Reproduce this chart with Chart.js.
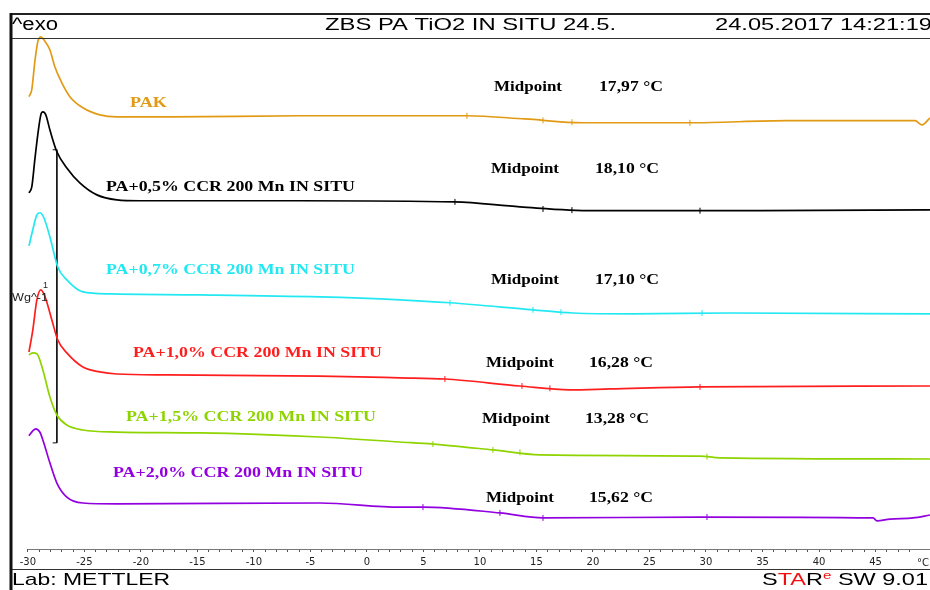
<!DOCTYPE html>
<html>
<head>
<meta charset="utf-8">
<script src="https://cdn.jsdelivr.net/npm/chart.js@4.4.1/dist/chart.umd.min.js"></script>
<style>
  html, body { margin: 0; padding: 0; background: #fff; }
  #wrap { position: relative; width: 930px; height: 590px; overflow: hidden; }
</style>
</head>
<body>
<div id="wrap"><canvas id="dsc" width="930" height="590"></canvas></div>
<script>
// DSC curves, temperature in °C, heat flow in W/g (curves shifted for display)
const tPAK = [-29.9, -29.65, -29.38, -29.12, -28.85, -28.58, -28.05, -27.61, -26.99, -26.28, -25.13, -23.63, -22.12, -17.17, -5.93, 4.96, 8.85, 13.98, 19.12, 28.58, 37.17, 45.66, 48.5, 49.12, 49.82];
const hPAK = [1.543, 1.567, 1.662, 1.730, 1.747, 1.737, 1.703, 1.645, 1.590, 1.543, 1.505, 1.481, 1.474, 1.474, 1.478, 1.478, 1.478, 1.467, 1.454, 1.454, 1.461, 1.461, 1.461, 1.447, 1.471];

const t05 = [-29.9, -29.65, -29.38, -29.12, -28.85, -28.67, -28.41, -28.05, -27.43, -26.55, -25.40, -23.89, -22.12, -20.09, -5.93, 7.79, 13.54, 20.0, 34.78, 49.82];
const h05 = [1.215, 1.235, 1.328, 1.413, 1.481, 1.491, 1.481, 1.430, 1.355, 1.300, 1.249, 1.208, 1.191, 1.188, 1.188, 1.184, 1.167, 1.154, 1.154, 1.157];

const t07 = [-29.9, -29.56, -29.20, -28.94, -28.58, -28.05, -27.35, -26.55, -25.13, -22.74, -14.78, -4.16, 2.92, 7.35, 14.69, 18.23, 23.54, 32.12, 49.82];
const h07 = [1.034, 1.089, 1.140, 1.147, 1.130, 1.065, 0.962, 0.918, 0.877, 0.870, 0.867, 0.860, 0.850, 0.840, 0.816, 0.805, 0.802, 0.805, 0.802];

const t10 = [-29.9, -29.56, -29.20, -28.85, -28.50, -27.88, -27.35, -26.55, -25.13, -23.63, -22.12, -17.70, -4.16, 2.92, 6.90, 13.54, 17.96, 21.50, 29.47, 49.82];
const h10 = [0.672, 0.747, 0.850, 0.884, 0.863, 0.782, 0.713, 0.669, 0.621, 0.604, 0.597, 0.594, 0.590, 0.584, 0.580, 0.556, 0.543, 0.546, 0.553, 0.556];

const t15 = [-29.9, -29.56, -29.20, -28.67, -28.05, -27.43, -26.55, -25.13, -22.12, -14.78, -4.16, 2.92, 5.84, 11.15, 15.31, 29.47, 31.24, 49.82];
const h15 = [0.662, 0.669, 0.666, 0.611, 0.519, 0.457, 0.423, 0.406, 0.399, 0.396, 0.382, 0.365, 0.358, 0.338, 0.321, 0.317, 0.311, 0.307];

const t20 = [-29.9, -29.56, -29.29, -28.94, -28.67, -28.05, -27.43, -26.55, -25.13, -22.12, -4.16, 2.92, 4.96, 11.77, 15.58, 29.47, 44.78, 45.13, 46.28, 48.32, 49.82];
const h20 = [0.386, 0.403, 0.410, 0.399, 0.372, 0.294, 0.225, 0.177, 0.157, 0.154, 0.157, 0.143, 0.143, 0.123, 0.106, 0.109, 0.106, 0.096, 0.102, 0.106, 0.116];

// glass transition evaluation marks: onset, midpoint, endset, limit (°C)
const mkT = [
  [8.85, 15.58, 18.14, 28.58],
  [7.79, 15.58, 18.14, 29.47],
  [7.35, 14.69, 17.17, 29.65],
  [6.90, 13.72, 16.19, 29.47],
  [5.84, 11.15, 13.54, 30.09],
  [4.96, 11.77, 15.58, 30.09]
];
const mkH = [
  [1.478, 1.462, 1.456, 1.454],
  [1.184, 1.160, 1.156, 1.154],
  [0.840, 0.816, 0.808, 0.805],
  [0.580, 0.556, 0.548, 0.553],
  [0.358, 0.338, 0.330, 0.315],
  [0.143, 0.123, 0.106, 0.109]
];

// 1 W/g scale bar
const tBar = [-27.8, -27.43, -27.43, -27.8];
const hBar = [1.362, 1.362, 0.362, 0.362];

const names = ["PAK", "PA+0,5% CCR 200 Mn IN SITU", "PA+0,7% CCR 200 Mn IN SITU",
  "PA+1,0% CCR 200 Mn IN SITU", "PA+1,5% CCR 200 Mn IN SITU", "PA+2,0% CCR 200 Mn IN SITU"];
const midpoints = ["17,97 °C", "18,10 °C", "17,10 °C", "16,28 °C", "13,28 °C", "15,62 °C"];
const colors = ["#E29A14", "#000000", "#22E8F2", "#FF1E1E", "#8ED400", "#9300E0"];
const temps = [tPAK, t05, t07, t10, t15, t20];
const flows = [hPAK, h05, h07, h10, h15, h20];

// where the texts sit: [x, y, width]
const namePos = [[130, 103, 37], [106, 187, 249], [106, 270, 249], [133, 353, 249], [126, 417, 250], [113, 473, 250]];
const midPos = [[494, 87], [491, 169], [491, 280], [486, 363], [482, 419], [486, 498]];
const valPos = [[599, 87], [595, 169], [595, 280], [589, 363], [585, 419], [589, 498]];

function fitText(ctx, text, x, y, w, font, color) {
  ctx.save();
  ctx.font = font;
  ctx.fillStyle = color;
  ctx.textBaseline = "middle";
  ctx.textAlign = "left";
  const m = ctx.measureText(text).width;
  ctx.translate(x, y);
  ctx.scale(w / m, 1);
  ctx.fillText(text, 0, 0);
  ctx.restore();
}

function hline(ctx, x1, x2, y, w, color) {
  ctx.beginPath();
  ctx.moveTo(x1, y);
  ctx.lineTo(x2, y);
  ctx.lineWidth = w;
  ctx.strokeStyle = color;
  ctx.stroke();
}

const frame = {
  id: "frame",
  afterDraw(chart) {
    const ctx = chart.ctx;
    const xs = chart.scales.x;
    ctx.save();
    // frame lines
    hline(ctx, 10, 930, 14, 2, "#222");
    hline(ctx, 10, 930, 38.5, 1, "#333");
    hline(ctx, xs.getPixelForValue(-30), 930, 549.5, 1, "#777");
    hline(ctx, 10, 930, 569.5, 1, "#333");
    ctx.beginPath();
    ctx.moveTo(11, 13);
    ctx.lineTo(11, 590);
    ctx.lineWidth = 3;
    ctx.strokeStyle = "#111";
    ctx.stroke();

    // header
    const sans = '"Liberation Sans", Arial, sans-serif';
    fitText(ctx, "^exo", 12, 25, 46, "18px " + sans, "#000");
    fitText(ctx, "ZBS PA TiO2 IN SITU 24.5.", 325, 25, 291, "17px " + sans, "#000");
    fitText(ctx, "24.05.2017 14:21:19", 715, 25, 217, "17px " + sans, "#000");

    // footer
    fitText(ctx, "Lab: METTLER", 12, 580, 158, "17px " + sans, "#000");
    const runs = [["S", "#000", 17, 0], ["TA", "#F01010", 17, 0], ["R", "#000", 17, 0],
      ["e", "#F01010", 11, -4], [" SW 9.01", "#000", 17, 0]];
    let total = 0;
    runs.forEach(r => { ctx.font = r[2] + "px " + sans; total += ctx.measureText(r[0]).width; });
    const k = 166 / total;
    let cx = 762;
    runs.forEach(r => {
      ctx.font = r[2] + "px " + sans;
      const w = ctx.measureText(r[0]).width * k;
      fitText(ctx, r[0], cx, 580 + r[3], w, r[2] + "px " + sans, r[1]);
      cx += w;
    });

    // axis unit
    ctx.font = '10px "DejaVu Sans"';
    ctx.fillStyle = "#222";
    ctx.textAlign = "center";
    ctx.textBaseline = "middle";
    ctx.fillText("°C", 923, 563);

    // scale bar label
    fitText(ctx, "1", 43, 286, 5, "9px " + sans, "#222");
    fitText(ctx, "Wg^-1", 12, 298, 36, "10px " + sans, "#222");

    // curve labels
    const serif = 'bold 15px "Liberation Serif", "Times New Roman", serif';
    names.forEach((n, i) => {
      const p = namePos[i];
      fitText(ctx, n, p[0], p[1], p[2], serif, colors[i]);
      fitText(ctx, "Midpoint", midPos[i][0], midPos[i][1], 68, serif, "#000");
      fitText(ctx, midpoints[i], valPos[i][0], valPos[i][1], 64, serif, "#000");
    });
    ctx.restore();
  }
};

const datasets = names.map((n, i) => ({
  label: n,
  data: temps[i].map((t, j) => ({ x: t, y: flows[i][j] })),
  borderColor: colors[i],
  borderWidth: 1.7,
  tension: 0.35,
  cubicInterpolationMode: "monotone",
  pointRadius: 0
}));
names.forEach((n, i) => {
  datasets.push({
    label: n + " marks",
    data: mkT[i].map((t, j) => ({ x: t, y: mkH[i][j] })),
    showLine: false,
    pointStyle: "line",
    rotation: 90,
    pointRadius: 3,
    borderColor: colors[i],
    borderWidth: 1
  });
});
datasets.push({
  label: "scale",
  data: tBar.map((t, j) => ({ x: t, y: hBar[j] })),
  borderColor: "#111",
  borderWidth: 1,
  tension: 0,
  pointRadius: 0
});

new Chart(document.getElementById("dsc"), {
  type: "line",
  data: { datasets: datasets },
  options: {
    responsive: false,
    animation: false,
    devicePixelRatio: 1,
    layout: { autoPadding: false, padding: { left: 12, right: 0, top: 36, bottom: 21 } },
    plugins: { legend: { display: false }, tooltip: { enabled: false } },
    scales: {
      x: {
        type: "linear",
        min: -31.4,
        max: 49.82,
        afterFit: (s) => { s.height = 20; s.paddingLeft = 0; s.paddingRight = 0; },
        border: { display: false },
        grid: {
          drawOnChartArea: false,
          tickLength: 3,
          tickColor: (c) => (c.tick && Number.isInteger(c.tick.value) && c.tick.value >= -30) ? "#555" : "rgba(0,0,0,0)"
        },
        ticks: {
          stepSize: 1,
          autoSkip: false,
          maxRotation: 0,
          padding: 4,
          color: "#222",
          font: { family: "DejaVu Sans", size: 10 },
          callback: (v) => (Number.isInteger(v) && v % 5 === 0 && v >= -30) ? String(v) : ""
        }
      },
      y: { display: false, min: 0, max: 1.75 }
    }
  },
  plugins: [frame]
});
</script>
</body>
</html>
